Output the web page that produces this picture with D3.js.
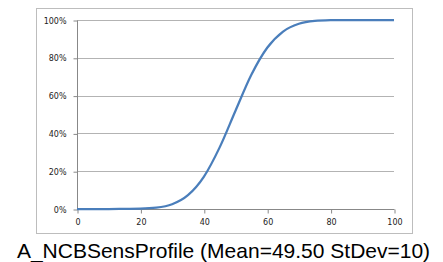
<!DOCTYPE html>
<html>
<head>
<meta charset="utf-8">
<script src="https://cdn.jsdelivr.net/npm/d3@7"></script>
<style>
  body { margin: 0; background: #fff; }
  svg { display: block; }
</style>
</head>
<body>
<div id="chart"></div>
<script>
const width = 443;
const height = 262;

// values (x, cumulative %)
const xValues = [0, 5, 10, 15, 20, 25, 30, 35, 40, 45, 50, 55, 60, 65, 70, 75, 80, 85, 90, 95, 100];
const yValues = [0, 0, 0, 0.1, 0.2, 0.7, 2.5, 7.3, 17, 32.6, 52, 71, 85.3, 93.9, 98, 99.5, 99.9, 100, 100, 100, 100];
const xTicks = [0, 20, 40, 60, 80, 100];
const yTicks = [0, 20, 40, 60, 80, 100];
const title = "A_NCBSensProfile (Mean=49.50 StDev=10)";

const margin = { top: 20, left: 77, right: 49, bottom: 53 };

const data = xValues.map((x, i) => ({ x: x, y: yValues[i] }));

const xScale = d3.scaleLinear().domain([0, 100]).range([margin.left, width - margin.right]);
const yScale = d3.scaleLinear().domain([0, 100]).range([height - margin.bottom, margin.top]);

const svg = d3.select("#chart").append("svg").attr("width", width).attr("height", height);

// outer frame
svg.append("rect")
    .attr("x", 36.5).attr("y", 8.5)
    .attr("width", 376).attr("height", 225)
    .attr("fill", "none")
    .attr("stroke", "#bdbdbd");

// gridlines
svg.append("g")
    .selectAll("line")
    .data(yTicks.filter(d => d > 0))
    .join("line")
    .attr("x1", xScale(0)).attr("x2", xScale(100))
    .attr("y1", d => Math.round(yScale(d)) + 0.5)
    .attr("y2", d => Math.round(yScale(d)) + 0.5)
    .attr("stroke", "#b3b3b3");

// y axis
const yAxis = d3.axisLeft(yScale).tickValues(yTicks).tickSize(4).tickFormat(d => d + "%");
svg.append("g")
    .attr("transform", `translate(${xScale(0) + 0.5},0.5)`)
    .call(yAxis)
    .call(g => g.select(".domain").attr("stroke", "#888").attr("d", `M0,${yScale(100)}V${yScale(0)}`))
    .call(g => g.selectAll(".tick line").attr("stroke", "#888"))
    .call(g => g.selectAll("text").attr("fill", "#222").attr("x", -11)
        .style("font-family", "DejaVu Sans").style("font-size", "8px"));

// x axis
const xAxis = d3.axisBottom(xScale).tickValues(xTicks).tickSize(4);
svg.append("g")
    .attr("transform", `translate(0.5,${Math.round(yScale(0)) + 0.5})`)
    .call(xAxis)
    .call(g => g.select(".domain").attr("stroke", "#888").attr("d", `M${xScale(0)},0H${xScale(100)}`))
    .call(g => g.selectAll(".tick line").attr("stroke", "#888"))
    .call(g => g.selectAll("text").attr("fill", "#222").attr("y", 10)
        .style("font-family", "DejaVu Sans").style("font-size", "8px"));

// curve
const line = d3.line()
    .x(d => xScale(d.x))
    .y(d => yScale(d.y))
    .curve(d3.curveMonotoneX);

svg.append("path")
    .datum(data)
    .attr("fill", "none")
    .attr("stroke", "#4a7ebb")
    .attr("stroke-width", 2.25)
    .attr("d", line);

// title
svg.append("text")
    .attr("x", 223.5)
    .attr("y", 258)
    .attr("text-anchor", "middle")
    .style("font-family", "Liberation Sans, Arial, sans-serif")
    .style("font-size", "21px")
    .style("fill", "#000")
    .text(title);
</script>
</body>
</html>
